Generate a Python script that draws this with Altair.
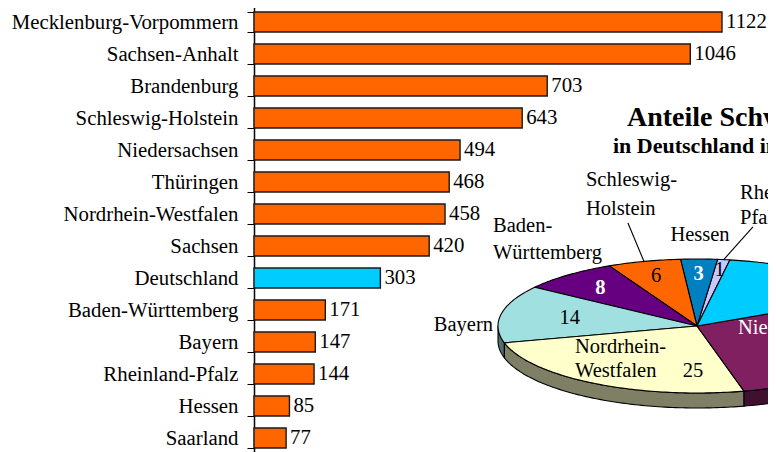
import math
import altair as alt
import pandas as pd

# ---------------- data ----------------
states = ["Mecklenburg-Vorpommern", "Sachsen-Anhalt", "Brandenburg", "Schleswig-Holstein",
          "Niedersachsen", "Thüringen", "Nordrhein-Westfalen", "Sachsen", "Deutschland",
          "Baden-Württemberg", "Bayern", "Rheinland-Pfalz", "Hessen", "Saarland"]
values = [1122, 1046, 703, 643, 494, 468, 458, 420, 303, 171, 147, 144, 85, 77]

pie_names = ["Rheinland-Pfalz", "Hessen", "Schleswig-Holstein", "Baden-Württemberg",
             "Bayern", "Nordrhein-Westfalen", "Niedersachsen", "Neue Länder"]
pie_values = [1, 3, 6, 8, 14, 25, 29, 15]

title_1 = "Anteile Schweinebestand"
title_2 = "in Deutschland in %"

# ---------------- styles / layout ----------------
FONT = "Liberation Serif"
FS_BAR = 20.8
FS = 20.5
OX = 254   # absolute x of the plot origin
pie_top_colors = ["#C8C8FF", "#0080C0", "#FF6600", "#660080", "#A0E0E0", "#FFFFCC", "#802060", "#00CCFF"]


def darker(hexc, f=0.5):
    r, g, b = int(hexc[1:3], 16), int(hexc[3:5], 16), int(hexc[5:7], 16)
    return "#%02X%02X%02X" % (int(r * f), int(g * f), int(b * f))


START = 80.5          # start angle of first slice (deg, counter-clockwise)
DEPTH = 15 / 67       # side height in ellipse units

# ---------------- bar chart ----------------
bar_df = pd.DataFrame({"s": states, "v": values})
xb = alt.X("v:Q", scale=alt.Scale(domain=[0, 1122], nice=False, zero=True), axis=None)
yb = alt.Y("s:N", sort=states,
           scale=alt.Scale(domain=states, range=[-2, 446], paddingInner=0.375, paddingOuter=0.1875),
           axis=alt.Axis(title=None, labelFont=FONT, labelFontSize=FS_BAR, labelColor="black",
                         labelPadding=9, labelLimit=400, tickSize=7, tickColor="black",
                         tickWidth=1, domainColor="black", domainWidth=1.5,
                         tickBand="extent", grid=False))

bars = alt.Chart(bar_df).mark_bar(stroke="#1a1a1a", strokeWidth=1.4).encode(
    x=xb, y=yb,
    fill=alt.condition(alt.datum.s == "Deutschland", alt.value("#00CCFF"), alt.value("#FF6600")),
)
bar_text = alt.Chart(bar_df).mark_text(align="left", baseline="middle", dx=4, font=FONT,
                                       fontSize=FS_BAR, color="black").encode(
    x=xb, y=yb, text="v:Q")
bar_layer = alt.layer(bars, bar_text)

# ---------------- pie geometry (from values) ----------------
tot = sum(pie_values)
top_rows, side_rows, mids = [], [], {}
a = START
for name, v, col in zip(pie_names, pie_values, pie_top_colors):
    span = v / tot * 360.0
    t1, t2 = a, a + span
    mids[name] = (t1 + t2) / 2
    steps = max(2, int(span) + 1)
    pts = [(0.0, 0.0)]
    for k in range(steps + 1):
        t = math.radians(t1 + span * k / steps)
        pts.append((math.cos(t), math.sin(t)))
    for j, (px, py) in enumerate(pts):
        top_rows.append(dict(poly=name, idx=j, px=px, py=py, col=col))
    for lo, hi in [(180, 360), (540, 720)]:
        s, e = max(t1, lo), min(t2, hi)
        if e > s:
            n = max(2, int(e - s) + 1)
            arc = [math.radians(s + (e - s) * k / n) for k in range(n + 1)]
            poly = [(math.cos(t), math.sin(t)) for t in arc] + \
                   [(math.cos(t), math.sin(t) - DEPTH) for t in reversed(arc)]
            pid = "%s_%d" % (name, lo)
            for j, (px, py) in enumerate(poly):
                side_rows.append(dict(poly=pid, idx=j, px=px, py=py, col=darker(col)))
    a = t2

top_df = pd.DataFrame(top_rows)
side_df = pd.DataFrame(side_rows)

xp = lambda f: alt.X(f, type="quantitative", axis=None,
                     scale=alt.Scale(domain=[-1, 1], range=[498 - OX, 896 - OX], nice=False, zero=False))
yp = lambda f: alt.Y(f, type="quantitative", axis=None,
                     scale=alt.Scale(domain=[-1, 1], range=[385, 251], nice=False, zero=False))


def poly_layer(df):
    return alt.Chart(df).mark_line(interpolate="linear-closed", stroke="black",
                                   strokeWidth=1.1, strokeJoin="round").encode(
        x=xp("px"), y=yp("py"), detail="poly:N", order="idx:Q",
        fill=alt.Fill("col:N", scale=None))


sides = poly_layer(side_df)
tops = poly_layer(top_df)

# leader lines: from rim at mid angle to label
leader_end = {"Schleswig-Holstein": (-0.347, 1.537), "Rheinland-Pfalz": (0.281, 1.478)}
lead_rows = []
for nm, (ex, ey) in leader_end.items():
    t = math.radians(mids[nm])
    lead_rows.append(dict(x1=math.cos(t), y1=math.sin(t), x2=ex, y2=ey))
leaders = alt.Chart(pd.DataFrame(lead_rows)).mark_rule(stroke="black", strokeWidth=1.1).encode(
    x=xp("x1"), y=yp("y1"), x2="x2:Q", y2="y2:Q")

# value labels: radial positions from mid angles
val_r = {"Rheinland-Pfalz": 0.85, "Hessen": 0.77, "Schleswig-Holstein": 0.77,
         "Baden-Württemberg": 0.75, "Bayern": 0.65, "Neue Länder": 0.72}
white_bold = {"Hessen", "Baden-Württemberg"}
label_rows = []
for nm, v in zip(pie_names, pie_values):
    if nm in val_r:
        t = math.radians(mids[nm])
        r = val_r[nm]
        label_rows.append(dict(txt=str(v), px=r * math.cos(t), py=r * math.sin(t),
                               grp="wb" if nm in white_bold else "cb"))

# name labels (layout in ellipse units)
label_rows += [
    dict(txt="Schleswig-", px=-0.558, py=2.179, grp="lb"),
    dict(txt="Holstein", px=-0.558, py=1.746, grp="lb"),
    dict(txt="Hessen", px=0.015, py=1.358, grp="cb"),
    dict(txt="Rheinland-", px=0.216, py=1.985, grp="lb"),
    dict(txt="Pfalz", px=0.216, py=1.612, grp="lb"),
    dict(txt="Baden-", px=-1.025, py=1.493, grp="lb"),
    dict(txt="Württemberg", px=-1.025, py=1.090, grp="lb"),
    dict(txt="Bayern", px=-1.025, py=0.015, grp="rb"),
    dict(txt="Nordrhein-", px=-0.613, py=-0.313, grp="lb"),
    dict(txt="Westfalen", px=-0.613, py=-0.672, grp="lb"),
    dict(txt=str(pie_values[pie_names.index("Nordrhein-Westfalen")]), px=-0.02, py=-0.672, grp="cb"),
    dict(txt="Niedersachsen  " + str(pie_values[pie_names.index("Niedersachsen")]),
         px=0.206, py=-0.03, grp="lw"),
]
lab_df = pd.DataFrame(label_rows)
styles = {
    "cb": dict(align="center", color="black", fontWeight="normal"),
    "lb": dict(align="left", color="black", fontWeight="normal"),
    "rb": dict(align="right", color="black", fontWeight="normal"),
    "wb": dict(align="center", color="white", fontWeight="bold"),
    "lw": dict(align="left", color="white", fontWeight="normal"),
}
text_layers = []
for g, st in styles.items():
    sub = lab_df[lab_df.grp == g]
    if len(sub):
        text_layers.append(alt.Chart(sub).mark_text(baseline="middle", font=FONT, fontSize=FS, **st)
                           .encode(x=xp("px"), y=yp("py"), text="txt:N"))

titles = [
    alt.Chart(pd.DataFrame({"t": [title_1]})).mark_text(
        align="left", baseline="alphabetic", font=FONT, fontSize=28, fontWeight="bold",
        color="black").encode(x=alt.value(627 - OX), y=alt.value(118), text="t:N"),
    alt.Chart(pd.DataFrame({"t": [title_2]})).mark_text(
        align="left", baseline="alphabetic", font=FONT, fontSize=22, fontWeight="bold",
        color="black").encode(x=alt.value(613 - OX), y=alt.value(145), text="t:N"),
]

pie_layer = alt.layer(sides, tops, leaders, *text_layers, *titles)

chart = alt.layer(bar_layer, pie_layer).resolve_scale(x="independent", y="independent").properties(
    width=468, height=444,
    padding={"left": OX - 8, "top": 0, "right": 760 - 468 - (OX - 8), "bottom": 0},
    autosize=alt.AutoSizeParams(type="none"),
    background="white",
).configure_view(stroke=None)

chart.save("out.html", embed_options={"renderer": "svg", "actions": False})
